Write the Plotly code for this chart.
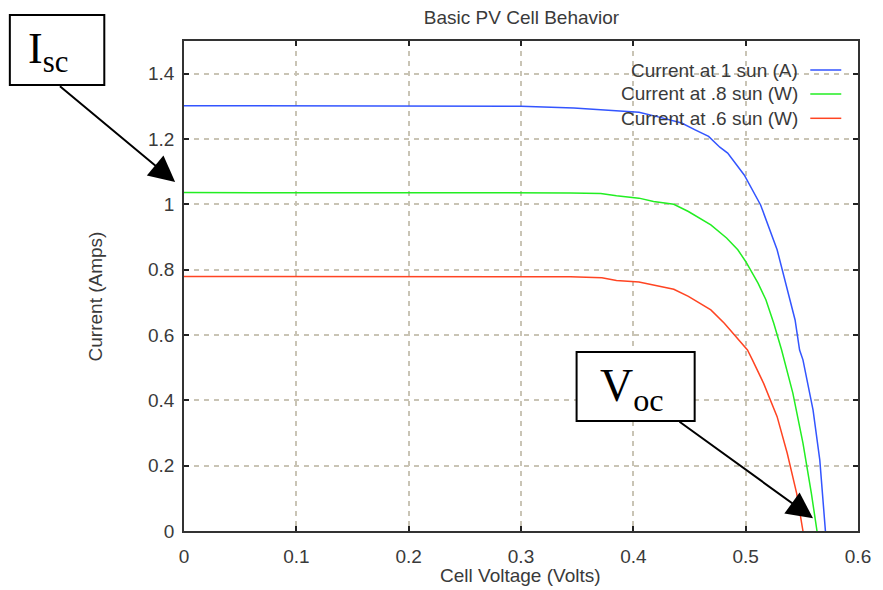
import plotly.graph_objects as go

# ---------------- data ----------------
series_names = ["Current at 1 sun (A)", "Current at .8 sun (W)", "Current at .6 sun (W)"]

v_1sun = [0.0, 0.30, 0.347, 0.373, 0.405, 0.423, 0.443, 0.455, 0.467, 0.477, 0.484,
          0.4987, 0.5133, 0.528, 0.537, 0.544, 0.548, 0.551, 0.560, 0.566, 0.571]
i_1sun = [1.302, 1.300, 1.295, 1.289, 1.282, 1.267, 1.249, 1.228, 1.208, 1.175, 1.157,
          1.090, 0.998, 0.861, 0.738, 0.646, 0.554, 0.524, 0.370, 0.217, 0.0]

v_08sun = [0.0, 0.30, 0.344, 0.371, 0.385, 0.405, 0.418, 0.436, 0.449, 0.469, 0.483,
           0.493, 0.500, 0.511, 0.518, 0.525, 0.532, 0.542, 0.551, 0.5585, 0.5635]
i_08sun = [1.036, 1.036, 1.035, 1.033, 1.026, 1.019, 1.009, 1.000, 0.978, 0.937, 0.897,
           0.861, 0.825, 0.759, 0.708, 0.636, 0.554, 0.422, 0.269, 0.115, 0.0]

v_06sun = [0.0, 0.30, 0.344, 0.372, 0.385, 0.405, 0.418, 0.436, 0.449, 0.469, 0.481,
           0.490, 0.5016, 0.506, 0.516, 0.528, 0.537, 0.5454, 0.551]
i_06sun = [0.779, 0.779, 0.778, 0.775, 0.767, 0.762, 0.753, 0.740, 0.718, 0.677, 0.636,
           0.600, 0.554, 0.524, 0.452, 0.350, 0.238, 0.115, 0.0]

x_ticks = [0, 0.1, 0.2, 0.3, 0.4, 0.5, 0.6]
x_tick_labels = ["0", "0.1", "0.2", "0.3", "0.4", "0.5", "0.6"]
y_ticks = [0, 0.2, 0.4, 0.6, 0.8, 1.0, 1.2, 1.4]
y_tick_labels = ["0", "0.2", "0.4", "0.6", "0.8", "1", "1.2", "1.4"]

chart_title = "Basic PV Cell Behavior"
x_title = "Cell Voltage (Volts)"
y_title = "Current (Amps)"

# ---------------- styling / layout ----------------
W, H = 883, 590
L, R, T, B = 184, 14, 41, 59
PW, PH = W - L - R, H - T - B
colors = ["#3355ff", "#22ee22", "#ff4422"]
txt_col = "#3a3a3a"
font_family = "Liberation Sans, Arial, sans-serif"
serif = "Liberation Serif, Times New Roman, serif"


def px(xp):
    return (xp - L) / PW


def py(yp):
    return (H - B - yp) / PH


fig = go.Figure()
for xs, ys, name, c in zip([v_1sun, v_08sun, v_06sun], [i_1sun, i_08sun, i_06sun],
                           series_names, colors):
    fig.add_trace(go.Scatter(x=xs, y=ys, mode="lines", name=name,
                             line=dict(color=c, width=1.5), showlegend=False))

grid_col = "#c9c4b5"
axis_common = dict(showline=True, linecolor="#333333", linewidth=1.5, mirror="ticks",
                   ticks="inside", ticklen=5, tickcolor="#222222", tickwidth=1.5,
                   showgrid=True, gridcolor=grid_col, gridwidth=1.5, griddash="5px,5px",
                   zeroline=False, tickfont=dict(family=font_family, size=19, color=txt_col))

fig.update_xaxes(range=[0, 0.6], tickvals=x_ticks, ticktext=x_tick_labels,
                 ticklabelstandoff=7, **axis_common)
fig.update_yaxes(range=[0, 1.5], tickvals=y_ticks, ticktext=y_tick_labels,
                 ticklabelstandoff=4, **axis_common)

annotations = []
shapes = []

# axis titles
annotations.append(dict(text=x_title, xref="paper", yref="paper", x=px(526), y=py(575),
                        xanchor="center", yanchor="middle", showarrow=False,
                        font=dict(family=font_family, size=19, color=txt_col)))
annotations.append(dict(text=y_title, xref="paper", yref="paper", x=px(94), y=py(296),
                        xanchor="center", yanchor="middle", showarrow=False, textangle=-90,
                        font=dict(family=font_family, size=19, color=txt_col)))

# legend (text right-aligned, line sample on the right)
row_y = [70, 94, 118.3]
for name, c, ry in zip(series_names, colors, row_y):
    annotations.append(dict(text=name, xref="paper", yref="paper", x=px(810), y=py(ry),
                            xanchor="right", yanchor="middle", showarrow=False,
                            font=dict(family=font_family, size=19, color=txt_col)))
    shapes.append(dict(type="line", xref="paper", yref="paper", x0=px(820.5), x1=px(852),
                       y0=py(ry), y1=py(ry), line=dict(color=c, width=1.5)))

# callout boxes
shapes.append(dict(type="rect", xref="paper", yref="paper", x0=px(7), x1=px(103),
                   y0=py(85), y1=py(15), line=dict(color="black", width=2),
                   fillcolor="white", layer="above"))
shapes.append(dict(type="rect", xref="paper", yref="paper", x0=px(583), x1=px(703),
                   y0=py(421), y1=py(352), line=dict(color="black", width=2),
                   fillcolor="white", layer="above"))

annotations.append(dict(text="I<sub>sc</sub>", xref="paper", yref="paper", x=px(23), y=py(51),
                        xanchor="left", yanchor="middle", showarrow=False,
                        font=dict(family=serif, size=44, color="black")))
annotations.append(dict(text="V<sub>oc</sub>", xref="paper", yref="paper", x=px(605), y=py(389),
                        xanchor="left", yanchor="middle", showarrow=False,
                        font=dict(family=serif, size=46, color="black")))

# arrows
annotations.append(dict(text="", xref="paper", yref="paper", x=px(175), y=py(182),
                        ax=58.3 - 175, ay=85 - 182, showarrow=True, arrowhead=2,
                        arrowsize=2.6, arrowwidth=2, arrowcolor="black"))
annotations.append(dict(text="", xref="paper", yref="paper", x=px(823.3), y=py(518.3),
                        ax=688.3 - 823.3, ay=420.7 - 518.3, showarrow=True, arrowhead=2,
                        arrowsize=2.6, arrowwidth=2, arrowcolor="black"))

fig.update_layout(
    width=W, height=H,
    margin=dict(l=L, r=R, t=T, b=B),
    paper_bgcolor="white", plot_bgcolor="white",
    title=dict(text=chart_title, x=px(527), xref="paper", xanchor="center",
               y=1 - 17 / H, yref="container", yanchor="middle",
               font=dict(family=font_family, size=19, color=txt_col)),
    annotations=annotations, shapes=shapes, showlegend=False,
)

fig.write_html("out.html", config={"displayModeBar": False},
               post_script="document.body.style.margin='0';document.body.style.overflow='hidden';")
